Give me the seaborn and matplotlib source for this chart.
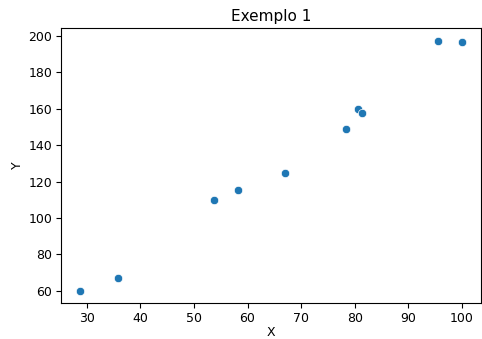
import matplotlib
matplotlib.use("Agg")
import matplotlib.pyplot as plt
import seaborn as sns
import pandas as pd

# Valores
x_vals = [28.8, 35.8, 53.8, 58.3, 66.9, 78.3, 80.6, 81.4, 95.6, 100.0]
y_vals = [60.2, 67.3, 110.1, 115.5, 124.7, 149.0, 159.6, 157.8, 197.3, 196.6]

df = pd.DataFrame({"X": x_vals, "Y": y_vals})

fig = plt.figure(figsize=(4.82, 3.39), dpi=100)
ax = fig.add_axes([0.127, 0.106, 0.871, 0.811])
sns.scatterplot(data=df, x="X", y="Y", ax=ax, s=36)
ax.set_title("Exemplo 1", fontsize=11, pad=5)
ax.set_xlabel("X", fontsize=9, labelpad=0.5)
ax.set_ylabel("Y", fontsize=9, labelpad=3)
ax.set_xticks([30, 40, 50, 60, 70, 80, 90, 100])
ax.set_yticks([60, 80, 100, 120, 140, 160, 180, 200])
ax.tick_params(labelsize=9, pad=3)

fig.savefig("out.png", dpi=100)
